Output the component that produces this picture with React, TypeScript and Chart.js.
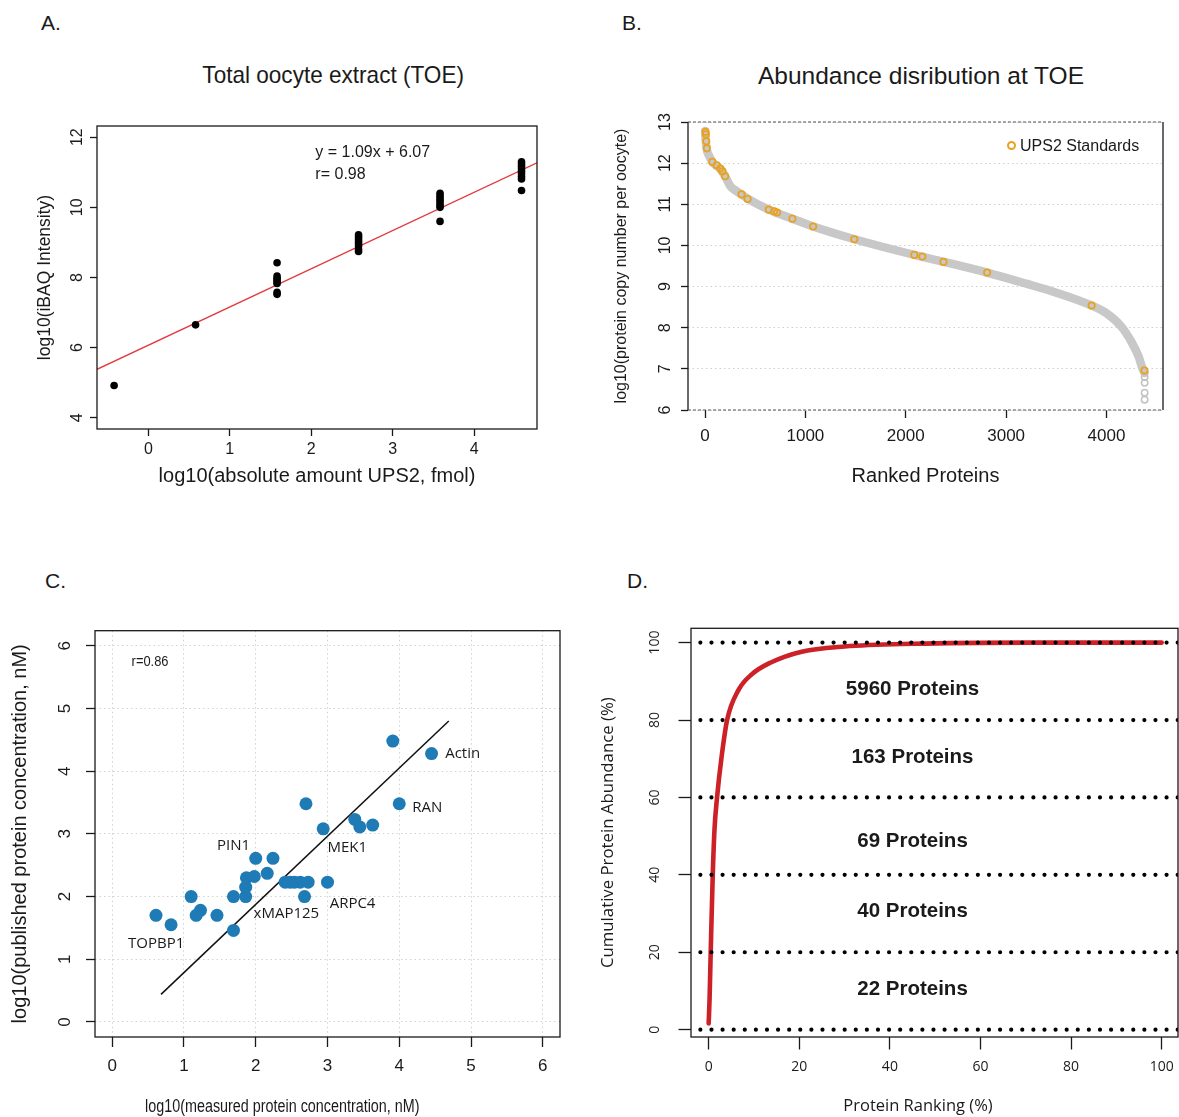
import React, { useEffect, useRef } from "react";
import { Chart, registerables } from "chart.js";

Chart.register(...registerables);

const ARIAL = "'Liberation Sans', Arial, sans-serif";
const MYRIAD = "'Open Sans', 'Liberation Sans', sans-serif";
const INK = "#1a1a1a";

// ---------------- Panel A: Total oocyte extract (TOE) ----------------
const aAmount = [
  -0.42, 0.58,
  1.58, 1.58, 1.58, 1.58, 1.58, 1.58, 1.58, 1.58,
  2.58, 2.58, 2.58, 2.58, 2.58, 2.58, 2.58, 2.58,
  3.58, 3.58, 3.58, 3.58, 3.58, 3.58, 3.58, 3.58,
  4.58, 4.58, 4.58, 4.58, 4.58, 4.58, 4.58, 4.58, 4.58,
];
const aIntensity = [
  4.92, 6.65,
  8.42, 8.04, 7.98, 7.93, 7.88, 7.83, 7.58, 7.52,
  9.22, 9.16, 9.1, 9.03, 8.96, 8.9, 8.8, 8.74,
  10.4, 10.33, 10.27, 10.2, 10.13, 10.06, 10.0, 9.6,
  11.3, 11.24, 11.17, 11.1, 11.03, 10.96, 10.88, 10.81, 10.48,
];
const aFitX = [-0.63, 4.77];
const aFitY = [5.38, 11.27];
const aXTicks = [0, 1, 2, 3, 4];
const aYTicks = [4, 6, 8, 10, 12];
const aNoteText = ["y = 1.09x + 6.07", "r= 0.98"];
const aNoteX = [2.05, 2.05];
const aNoteY = [11.56, 10.94];

// ---------------- Panel B: Abundance distribution ----------------
const bCurveRank = [0, 5, 10, 20, 40, 72, 116, 152, 200, 254, 300, 363, 424, 635, 870, 1077, 1490, 2085, 2380, 2810, 3200, 3500, 3850, 4000, 4150, 4250, 4320, 4360, 4380];
const bCurveValue = [12.78, 12.6, 12.45, 12.3, 12.18, 12.03, 11.93, 11.86, 11.68, 11.43, 11.34, 11.24, 11.14, 10.87, 10.65, 10.46, 10.15, 9.77, 9.6, 9.34, 9.07, 8.85, 8.54, 8.35, 8.02, 7.65, 7.3, 7.0, 6.9];
const bUpsRank = [5, 8, 12, 18, 72, 116, 152, 174, 200, 363, 424, 635, 689, 718, 870, 1077, 1487, 2085, 2165, 2376, 2811, 3852, 4378];
const bUpsValue = [12.76, 12.7, 12.53, 12.36, 12.03, 11.95, 11.87, 11.8, 11.68, 11.24, 11.13, 10.87, 10.83, 10.8, 10.65, 10.46, 10.15, 9.77, 9.73, 9.6, 9.34, 8.54, 6.96];
const bTailRank = [4380, 4380, 4380, 4380];
const bTailValue = [6.8, 6.66, 6.42, 6.25];
const bXTicks = [0, 1000, 2000, 3000, 4000];
const bYTicks = [6, 7, 8, 9, 10, 11, 12, 13];
const bLegendLabel = "UPS2 Standards";

// ---------------- Panel C: measured vs published ----------------
const cMeasured = [0.61, 0.82, 1.1, 1.17, 1.23, 1.46, 1.69, 1.69, 1.86, 1.86, 1.87, 1.98, 2.0, 2.16, 2.24, 2.41, 2.48, 2.54, 2.62, 2.73, 2.68, 2.7, 2.94, 3.0, 3.38, 3.45, 3.63, 3.91, 4.0, 4.45];
const cPublished = [1.7, 1.55, 2.0, 1.7, 1.78, 1.7, 1.46, 2.0, 2.0, 2.15, 2.3, 2.32, 2.61, 2.37, 2.61, 2.23, 2.23, 2.23, 2.23, 2.23, 2.0, 3.48, 3.08, 2.23, 3.23, 3.11, 3.14, 4.48, 3.48, 4.28];
const cFitX = [0.68, 4.69];
const cFitY = [0.44, 4.8];
const cTicks = [0, 1, 2, 3, 4, 5, 6];
const cNoteText = ["Actin", "RAN", "PIN1", "MEK1", "xMAP125", "ARPC4", "TOPBP1"];
const cNoteX = [4.64, 4.18, 1.46, 3.0, 1.97, 3.03, 0.22];
const cNoteY = [4.28, 3.41, 2.81, 2.78, 1.72, 1.89, 1.24];
const cCorrText = "r=0.86";
const cCorrX = 0.27;
const cCorrY = 5.74;

// ---------------- Panel D: cumulative abundance ----------------
const dRankPct = [0, 0.2, 0.45, 0.9, 1.3, 1.85, 2.8, 4.07, 6.6, 9.5, 13.6, 20.3, 30, 45, 70, 100];
const dCumAbund = [1.6, 8, 20, 40, 52, 60, 70, 80, 87.8, 91.8, 94.8, 97.6, 99.0, 99.7, 100, 100];
const dLevels = [0, 20, 40, 60, 80, 100];
const dLevelSpan = [-1.83, 103.6];
const dBandText = ["22 Proteins", "40 Proteins", "69 Proteins", "163 Proteins", "5960 Proteins"];
const dBandY = [10.4, 30.6, 48.7, 70.3, 87.8];
const dBandX = 45;
const dTicks = [0, 20, 40, 60, 80, 100];

const pts = (xs: number[], ys: number[]) => xs.map((x, i) => ({ x, y: ys[i] }));

// ---------------- plugins ----------------
const frame = (style: "box" | "sides") => ({
  id: "frame",
  afterDatasetsDraw(chart: any) {
    const { ctx, chartArea: a } = chart;
    ctx.save();
    ctx.strokeStyle = INK;
    ctx.lineWidth = 1.3;
    if (style === "box") {
      ctx.strokeRect(a.left, a.top, a.right - a.left, a.bottom - a.top);
    } else {
      ctx.beginPath();
      ctx.moveTo(a.left, a.top);
      ctx.lineTo(a.left, a.bottom);
      ctx.moveTo(a.right, a.top);
      ctx.lineTo(a.right, a.bottom);
      ctx.stroke();
      ctx.setLineDash([3, 2]);
      ctx.strokeStyle = "#555";
      ctx.lineWidth = 1.2;
      ctx.beginPath();
      ctx.moveTo(a.left, a.top);
      ctx.lineTo(a.right, a.top);
      ctx.moveTo(a.left, a.bottom);
      ctx.lineTo(a.right, a.bottom);
      ctx.stroke();
    }
    ctx.restore();
  },
});

type Note = { text: string; x: number; y: number; align: CanvasTextAlign; font: string; sx?: number };
const notes = (items: Note[]) => ({
  id: "notes",
  afterDatasetsDraw(chart: any) {
    const { ctx, scales } = chart;
    for (const n of items) {
      const px = scales.x.getPixelForValue(n.x);
      const py = scales.y.getPixelForValue(n.y);
      ctx.save();
      ctx.translate(px, py);
      ctx.scale(n.sx ?? 1, 1);
      ctx.font = n.font;
      ctx.fillStyle = INK;
      ctx.textAlign = n.align;
      ctx.textBaseline = "middle";
      ctx.fillText(n.text, 0, 0);
      ctx.restore();
    }
  },
});

type AxisCfg = {
  min: number;
  max: number;
  values: number[];
  fixed: number;
  horizontal: boolean;
  tickLen: number;
  pad: number;
  family: string;
  size: number;
  gridColor?: string;
  title?: { text: string; size: number; family: string; pad: number };
};

function makeAxis(c: AxisCfg) {
  return {
    type: "linear",
    min: c.min,
    max: c.max,
    afterBuildTicks: (s: any) => {
      s.ticks = c.values.map((v) => ({ value: v }));
    },
    afterFit: (s: any) => {
      if (c.horizontal) s.height = c.fixed;
      else s.width = c.fixed;
      s.paddingLeft = 0;
      s.paddingRight = 0;
      s.paddingTop = 0;
      s.paddingBottom = 0;
    },
    grid: {
      display: true,
      drawOnChartArea: !!c.gridColor,
      color: c.gridColor ?? "rgba(0,0,0,0)",
      lineWidth: 1,
      drawTicks: true,
      tickLength: c.tickLen,
      tickColor: INK,
      tickWidth: 1.3,
    },
    border: { display: false, dash: [1.5, 3] },
    ticks: {
      autoSkip: false,
      minRotation: c.horizontal ? 0 : 90,
      maxRotation: c.horizontal ? 0 : 90,
      crossAlign: c.horizontal ? "near" : "center",
      padding: c.pad,
      color: INK,
      font: { family: c.family, size: c.size },
      callback: (v: any) => String(v),
    },
    title: c.title
      ? {
          display: true,
          text: c.title.text,
          color: INK,
          font: { family: c.title.family, size: c.title.size },
          padding: c.horizontal ? { top: 0, bottom: c.title.pad } : { top: c.title.pad, bottom: 0 },
        }
      : { display: false },
  };
}

function baseOptions(padding: any, scales: any) {
  return {
    responsive: false,
    animation: false,
    devicePixelRatio: 1,
    events: [],
    layout: { padding },
    plugins: { legend: { display: false }, tooltip: { enabled: false }, title: { display: false } },
    scales,
  };
}

// ---------------- chart configs ----------------
function configA() {
  return {
    type: "scatter",
    data: {
      datasets: [
        { data: pts(aAmount, aIntensity), pointRadius: 3.8, pointBackgroundColor: "#000", pointBorderWidth: 0, showLine: false },
        { data: pts(aFitX, aFitY), showLine: true, borderColor: "#e23b3f", borderWidth: 1.4, pointRadius: 0 },
      ],
    },
    options: baseOptions({ top: 26, right: 53, left: 0, bottom: 0 }, {
      x: makeAxis({ min: -0.63, max: 4.77, values: aXTicks, fixed: 71, horizontal: true, tickLen: 7, pad: 4.4, family: ARIAL, size: 16,
        title: { text: "log10(absolute amount UPS2, fmol)", size: 20, family: ARIAL, pad: 11.3 } }),
      y: makeAxis({ min: 3.68, max: 12.32, values: aYTicks, fixed: 97, horizontal: false, tickLen: 7, pad: 4, family: ARIAL, size: 16,
        title: { text: "log10(iBAQ Intensity)", size: 17.5, family: ARIAL, pad: 34.5 } }),
    }),
    plugins: [
      frame("box"),
      notes(aNoteText.map((t, i) => ({ text: t, x: aNoteX[i], y: aNoteY[i], align: "left" as CanvasTextAlign, font: `16px ${ARIAL}` }))),
    ],
  };
}

function configB() {
  return {
    type: "scatter",
    data: {
      datasets: [
        { data: pts(bUpsRank, bUpsValue), pointRadius: 3.2, pointBackgroundColor: "rgba(0,0,0,0)", pointBorderColor: "#e9a21f", pointBorderWidth: 1.7, showLine: false },
        { data: pts(bTailRank, bTailValue), pointRadius: 3.2, pointBackgroundColor: "rgba(0,0,0,0)", pointBorderColor: "#c2c2c2", pointBorderWidth: 1.5, showLine: false },
        { data: pts(bCurveRank, bCurveValue), showLine: true, borderColor: "#c8c8c8", borderWidth: 8.5, pointRadius: 0, cubicInterpolationMode: "monotone", borderCapStyle: "round", borderJoinStyle: "round" },
      ],
    },
    options: baseOptions({ top: 22, right: 16, left: 0, bottom: 0 }, {
      x: makeAxis({ min: -170, max: 4563, values: bXTicks, fixed: 90, horizontal: true, tickLen: 8, pad: 8.5, family: ARIAL, size: 17,
        title: { text: "Ranked Proteins", size: 20, family: ARIAL, pad: 11.3 } }),
      y: makeAxis({ min: 6, max: 13, values: bYTicks, fixed: 98, horizontal: false, tickLen: 7, pad: 6.1, family: ARIAL, size: 16, gridColor: "#cfcfcf",
        title: { text: "log10(protein copy number per oocyte)", size: 16, family: ARIAL, pad: 22.4 } }),
    }),
    plugins: [frame("sides")],
  };
}

function configC() {
  const labelFont = `15px 'Liberation Sans Narrow', ${MYRIAD}`;
  return {
    type: "scatter",
    data: {
      datasets: [
        { data: pts(cMeasured, cPublished), pointRadius: 6.5, pointBackgroundColor: "#1e7bb5", pointBorderWidth: 0, showLine: false },
        { data: pts(cFitX, cFitY), showLine: true, borderColor: "#111", borderWidth: 1.5, pointRadius: 0 },
      ],
    },
    options: baseOptions({ top: 30.7, right: 30, left: 0, bottom: 0 }, {
      x: makeAxis({ min: -0.24, max: 6.24, values: cTicks, fixed: 80, horizontal: true, tickLen: 10, pad: 9.5, family: ARIAL, size: 17, gridColor: "#d2d2d2" }),
      y: makeAxis({ min: -0.24, max: 6.24, values: cTicks, fixed: 95, horizontal: false, tickLen: 9, pad: 16.3, family: ARIAL, size: 17, gridColor: "#d2d2d2",
        title: { text: "log10(published protein concentration, nM)", size: 20, family: ARIAL, pad: 8 } }),
    }),
    plugins: [
      frame("box"),
      notes([
        { text: cCorrText, x: cCorrX, y: cCorrY, align: "left", font: `14px ${ARIAL}`, sx: 0.92 },
        ...cNoteText.map((t, i) => ({ text: t, x: cNoteX[i], y: cNoteY[i], align: "left" as CanvasTextAlign, font: labelFont, sx: 1 })),
      ]),
    ],
  };
}

function configD() {
  const refSets = dLevels.map((lv) => ({
    data: pts(dLevelSpan, [lv, lv]),
    showLine: true,
    borderColor: "#000",
    borderWidth: 4.2,
    borderDash: [0, 11.1],
    borderCapStyle: "round",
    pointRadius: 0,
  }));
  return {
    type: "scatter",
    data: {
      datasets: [
        ...refSets,
        { data: pts(dRankPct, dCumAbund), showLine: true, borderColor: "#cd2128", borderWidth: 4.6, pointRadius: 0, cubicInterpolationMode: "monotone", borderCapStyle: "round" },
      ],
    },
    options: baseOptions({ top: 28.3, right: 1, left: 0, bottom: 0 }, {
      x: makeAxis({ min: -3.9, max: 103.6, values: dTicks, fixed: 80, horizontal: true, tickLen: 12.5, pad: 9.3, family: MYRIAD, size: 14 }),
      y: makeAxis({ min: -1.9, max: 103.7, values: dTicks, fixed: 101, horizontal: false, tickLen: 12.5, pad: 11.5, family: MYRIAD, size: 14,
        title: { text: "Cumulative Protein Abundance (%)", size: 16.8, family: MYRIAD, pad: 8 } }),
    }),
    plugins: [
      frame("box"),
      notes(dBandText.map((t, i) => ({ text: t, x: dBandX, y: dBandY[i], align: "center" as CanvasTextAlign, font: `bold 20.5px ${ARIAL}` }))),
    ],
  };
}

// ---------------- components ----------------
function ChartCanvas({ left, top, width, height, make }: { left: number; top: number; width: number; height: number; make: () => any }) {
  const ref = useRef<HTMLCanvasElement>(null);
  useEffect(() => {
    const chart = new Chart(ref.current as HTMLCanvasElement, make());
    return () => chart.destroy();
  }, []);
  return <canvas ref={ref} width={width} height={height} style={{ position: "absolute", left, top, width, height }} />;
}

function Txt({ x, cy, size, text, family = ARIAL, weight = 400, center = false, sx = 1, k = 0.59 }: any) {
  const style: any = {
    position: "absolute",
    top: cy - k * size,
    fontFamily: family,
    fontSize: size,
    fontWeight: weight,
    lineHeight: 1.2,
    whiteSpace: "nowrap",
    color: INK,
  };
  if (center) {
    style.left = x - 400;
    style.width = 800;
    style.textAlign = "center";
  } else {
    style.left = x;
  }
  return (
    <div style={style}>
      <span style={{ display: "inline-block", transform: `scaleX(${sx})`, transformOrigin: center ? "center" : "left" }}>{text}</span>
    </div>
  );
}

export default function App() {
  return (
    <div style={{ position: "absolute", left: 0, top: 0, width: 1179, height: 1117, background: "#fff", overflow: "hidden" }}>
      <Txt x={41} cy={22} size={21} text="A." />
      <Txt x={622} cy={22} size={21} text="B." />
      <Txt x={45} cy={580} size={21} text="C." />
      <Txt x={627} cy={580} size={21} text="D." />
      <Txt x={333} cy={75} size={24} text="Total oocyte extract (TOE)" center sx={0.94} />
      <Txt x={921} cy={75} size={24.5} text="Abundance disribution at TOE" center />

      <ChartCanvas left={0} top={100} width={590} height={400} make={configA} />
      <ChartCanvas left={590} top={100} width={589} height={400} make={configB} />
      <ChartCanvas left={0} top={600} width={590} height={517} make={configC} />
      <ChartCanvas left={590} top={600} width={589} height={517} make={configD} />

      {/* legend of panel B */}
      <div style={{ position: "absolute", left: 1011 - 4.5, top: 145 - 4.5, width: 5, height: 5, border: "2px solid #e9a21f", borderRadius: "50%" }} />
      <Txt x={1020} cy={145} size={16} text={bLegendLabel} />

      {/* x-axis titles of panels C and D */}
      <Txt x={282.5} cy={1106.5} size={17.5} text="log10(measured protein concentration, nM)" center sx={0.82} />
      <Txt x={918} cy={1105} size={16.5} text="Protein Ranking (%)" family={MYRIAD} center k={0.63} />
    </div>
  );
}
